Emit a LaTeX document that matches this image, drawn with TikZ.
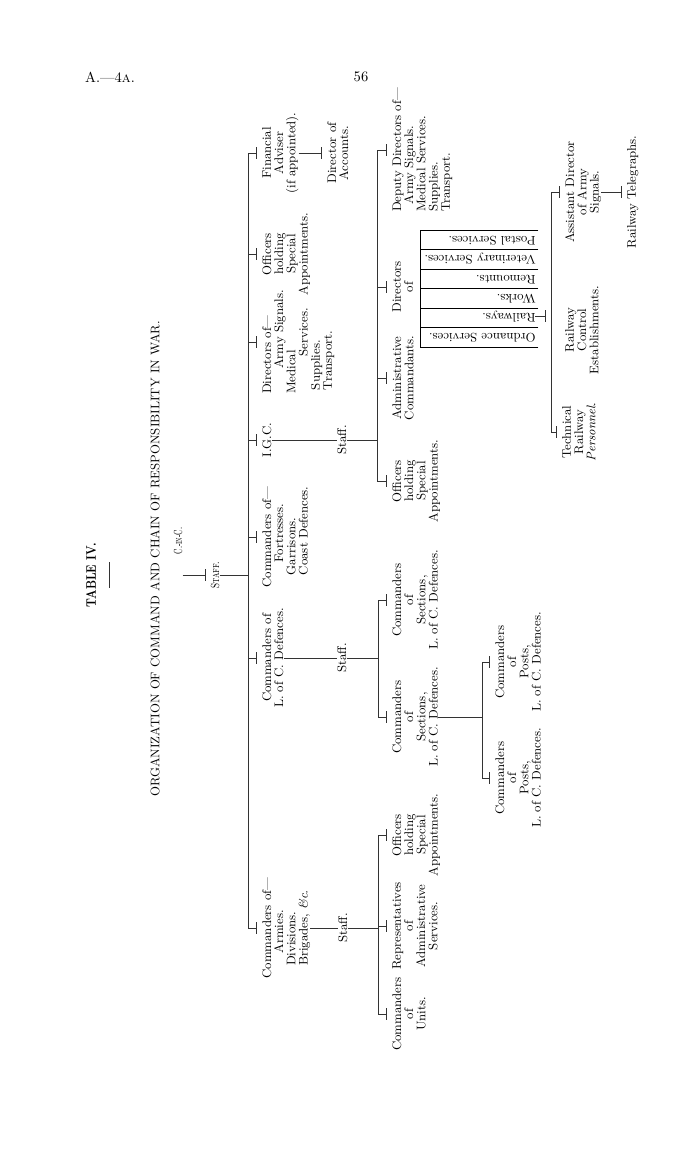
\documentclass[tikz,border=0pt]{standalone}
\usepackage{fontspec}
\usetikzlibrary{arrows.meta}
\newcommand\chartfont{\fontsize{9}{8.8}\selectfont}

\begin{document}
\begin{tikzpicture}[x=0.01in,y=-0.01in,every node/.style={inner sep=0pt},
lbl/.style={rotate=90, align=center, font=\chartfont},
hang/.style={lbl, anchor=north},
rule/.style={line width=0.4pt, black!80},
drop/.style={rule, -{Bar[width=2.8mm]}, shorten >=1.3mm},
entries/.style={rotate=180, font=\chartfont}]
\useasboundingbox (0,0) rectangle (700,1163);
\node[font=\fontsize{10.5}{12}\selectfont] (pageref) at (110,77) {A.---4\textsc{a}.};
\node[font=\fontsize{10.5}{12}\selectfont] (pageno) at (361,77) {56};
\node[lbl] (title) at (91,575) {\scalebox{0.8}[1]{\fontsize{10}{10}\selectfont\bfseries TABLE IV.}};
\draw[rule] (109,562) -- (109,588);
\node[lbl, font=\chartfont\addfontfeature{LetterSpace=3}] (heading) at (155,559) {ORGANIZATION OF COMMAND AND CHAIN OF RESPONSIBILITY IN WAR.};
\node[lbl, font=\fontsize{8.5}{9}\selectfont] (cinc) at (178,541) {\scalebox{0.62}[1]{C.-\textsc{in}-C.}};
\node[lbl, font=\fontsize{8.5}{9}\selectfont] (cstaff) at (215,575) {\scalebox{0.75}[1]{S\textsc{taff}.}};
\coordinate (br1) at (248,0);
\coordinate (brigc) at (377,0);
\coordinate (brloc) at (378,0);
\coordinate (brarm) at (378,0);
\coordinate (brpost) at (482,0);
\coordinate (brrail) at (551,0);
\coordinate (railj) at (535,316);
\node[hang] (fa) at (262,153) {Financial\\Adviser\\(if appointed).};
\node[hang] (doa) at (327,153) {Director of\\Accounts.};
\node[hang] (offa) at (262,254) {Officers\\holding\\Special\\Appointments.};
\node[hang, align=left] (dira) at (262,342) {Directors of---\\\hspace*{2em}Army Signals.\\Medical\\\hspace*{3em}Services.\\\hspace*{.3em}Supplies.\\\hspace*{.3em}Transport.};
\node[hang] (igc) at (262,440) {I.G.C.};
\node[hang] (istaff) at (337,440) {Staff.};
\node[hang, align=left] (cmfort) at (262,537) {Commanders of---\\\hspace*{2em}Fortresses.\\\hspace*{1em}Garrisons.\\\hspace*{1em}Coast Defences.};
\node[hang] (cmloc) at (262,658) {Commanders of\\L. of C. Defences.};
\node[hang] (lstaff) at (337,658) {Staff.};
\node[hang, align=left] (armies) at (262,928) {Commanders of---\\\hspace*{2em}Armies.\\\hspace*{1em}Divisions.\\\hspace*{1em}Brigades, \textit{\&c.}};
\node[hang] (astaff) at (338,928) {Staff.};
\node[hang, align=left] (dep) at (392,150) {Deputy Directors of---\\\hspace*{.6em}Army Signals.\\Medical Services.\\Supplies.\\Transport.};
\node[hang] (dirb) at (392,287) {Directors\\of};
\node[hang] (adm) at (392,378) {Administrative\\Commandants.};
\node[hang] (offb) at (392,481) {Officers\\holding\\Special\\Appointments.};
\node[entries, anchor=east] (dirbox) at (420,288.5) {\renewcommand\arraystretch{1.55}\begin{tabular}{@{\hspace{2pt}}l@{\hspace{3pt}}|}\hline Ordnance Services.\\\hline Railways.\\\hline Works.\\\hline Remounts.\\\hline Veterinary Services.\\\hline Postal Services.\\\hline\end{tabular}};
\node[hang] (asd) at (565,192) {Assistant Director\\of Army\\Signals.};
\node[hang] (rc) at (565,330) {Railway\\Control\\Establishments.};
\node[hang] (tech) at (562,432) {Technical\\Railway\\\textit{Personnel}.};
\node[hang] (rtel) at (627,192) {Railway Telegraphs.};
\node[hang] (secb) at (392,600) {Commanders\\of\\Sections,\\L. of C. Defences.};
\node[hang] (seca) at (392,717) {Commanders\\of\\Sections,\\L. of C. Defences.};
\node[hang] (posta) at (495,662) {Commanders\\of\\Posts,\\L. of C. Defences.};
\node[hang] (postb) at (495,778) {Commanders\\of\\Posts,\\L. of C. Defences.};
\node[hang] (offc) at (392,835) {Officers\\holding\\Special\\Appointments.};
\node[hang] (rep) at (392,926) {Representatives\\of\\Administrative\\Services.};
\node[hang] (units) at (392,1014) {Commanders\\of\\Units.};
\draw[drop] (cinc.south |- cstaff.north) -- (cstaff.north);
\draw[rule] (cstaff.south) -- (cstaff.south -| br1);
\draw[rule] (br1 |- fa.north) -- (br1 |- armies.north);
\draw[drop] (br1 |- fa.north) -- (fa.north);
\draw[drop] (br1 |- offa.north) -- (offa.north);
\draw[drop] (br1 |- dira.north) -- (dira.north);
\draw[drop] (br1 |- igc.north) -- (igc.north);
\draw[drop] (br1 |- cmfort.north) -- (cmfort.north);
\draw[drop] (br1 |- cmloc.north) -- (cmloc.north);
\draw[drop] (br1 |- armies.north) -- (armies.north);
\draw[drop] (fa.south) -- (doa.north);
\draw[rule] (igc.south) -- (istaff.north);
\draw[rule] (istaff.south) -- (istaff.south -| brigc);
\draw[rule] (brigc |- dep.north) -- (brigc |- offb.north);
\draw[drop] (brigc |- dep.north) -- (dep.north);
\draw[drop] (brigc |- dirb.north) -- (dirb.north);
\draw[drop] (brigc |- adm.north) -- (adm.north);
\draw[drop] (brigc |- offb.north) -- (offb.north);
\draw[drop] (railj) -- (railj -| brrail);
\draw[rule] (brrail |- asd.north) -- (brrail |- tech.north);
\draw[drop] (brrail |- asd.north) -- (asd.north);
\draw[drop] (brrail |- tech.north) -- (tech.north);
\draw[drop] (asd.south) -- (rtel.north);
\draw[rule] (cmloc.south) -- (lstaff.north);
\draw[rule] (lstaff.south) -- (lstaff.south -| brloc);
\draw[rule] (brloc |- secb.north) -- (brloc |- seca.north);
\draw[drop] (brloc |- secb.north) -- (secb.north);
\draw[drop] (brloc |- seca.north) -- (seca.north);
\draw[rule] (seca.south) -- (seca.south -| brpost);
\draw[rule] (brpost |- posta.north) -- (brpost |- postb.north);
\draw[drop] (brpost |- posta.north) -- (posta.north);
\draw[drop] (brpost |- postb.north) -- (postb.north);
\draw[rule] (armies.south) -- (astaff.north);
\draw[rule] (astaff.south) -- (astaff.south -| brarm);
\draw[rule] (brarm |- offc.north) -- (brarm |- units.north);
\draw[drop] (brarm |- offc.north) -- (offc.north);
\draw[drop] (brarm |- rep.north) -- (rep.north);
\draw[drop] (brarm |- units.north) -- (units.north);
\end{tikzpicture}
\end{document}
